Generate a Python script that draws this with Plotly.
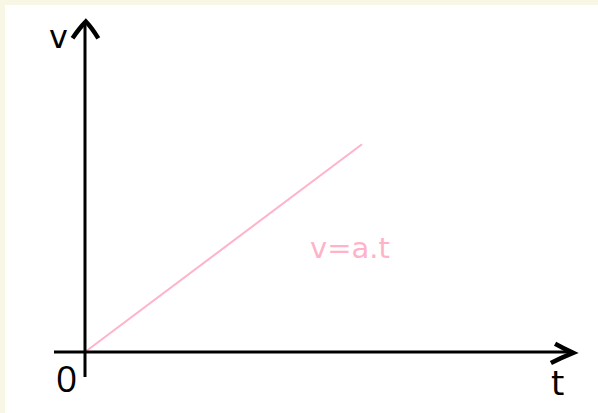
import plotly.graph_objects as go

# data
t_values = [0, 10]
v_values = [0, 7.5]
line_label = "v=a.t"
x_label = "t"
y_label = "v"
origin_label = "0"

PINK = "#ffb3c8"
CREAM = "#f8f7e6"

fig = go.Figure()
fig.add_trace(go.Scatter(x=t_values, y=v_values, mode="lines",
                         line=dict(color=PINK, width=2), hoverinfo="skip",
                         showlegend=False))

shapes = [
    # vertical axis
    dict(type="line", x0=0, x1=0, y0=-0.9, y1=11.88, line=dict(color="black", width=3)),
    # horizontal axis
    dict(type="line", x0=-1.12, x1=17.62, y0=0, y1=0, line=dict(color="black", width=3)),
    # arrow heads
    dict(type="path", path="M -0.45 11.33 Q -0.2 11.7 0.03 11.93 Q 0.25 11.7 0.48 11.32",
         line=dict(color="black", width=4.5)),
    dict(type="path", path="M 16.97 0.3 Q 17.3 0.12 17.62 -0.03 Q 17.2 -0.2 16.82 -0.4",
         line=dict(color="black", width=4.5)),
]

annotations = [
    dict(x=-0.97, y=11.37, text=y_label, showarrow=False, xanchor="center", yanchor="middle",
         font=dict(size=32, color="black", family="DejaVu Sans")),
    dict(x=-0.68, y=-0.92, text=origin_label, showarrow=False, xanchor="center", yanchor="middle",
         font=dict(size=37, color="black", family="Open Sans")),
    dict(x=17.04, y=-1.13, text=x_label, showarrow=False, xanchor="center", yanchor="middle",
         font=dict(size=34, color="black", family="DejaVu Sans")),
    dict(x=9.55, y=3.75, text=line_label, showarrow=False, xanchor="center", yanchor="middle",
         font=dict(size=29, color=PINK, family="DejaVu Sans")),
]

fig.update_layout(
    width=598, height=413,
    margin=dict(l=5, r=0, t=5, b=0),
    paper_bgcolor=CREAM, plot_bgcolor="white",
    xaxis=dict(range=[-2.888, 18.52], visible=False, fixedrange=True),
    yaxis=dict(range=[-2.202, 12.527], visible=False, fixedrange=True),
    shapes=shapes, annotations=annotations,
)

fig.write_html("out.html", config={"displayModeBar": False},
               post_script="document.body.style.margin='0px';document.body.style.overflow='hidden';")
